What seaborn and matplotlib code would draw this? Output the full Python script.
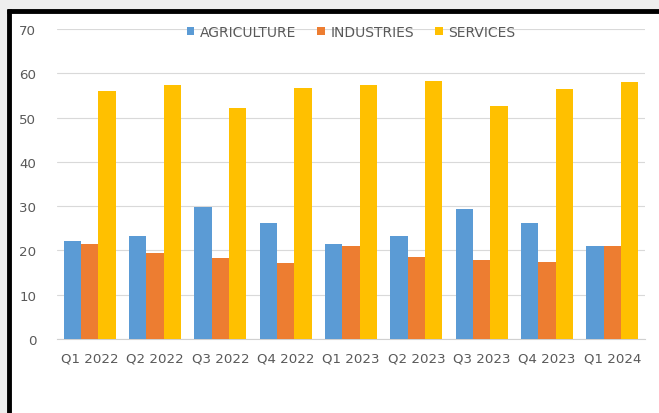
import pandas as pd
import matplotlib.pyplot as plt
import seaborn as sns
from matplotlib.lines import Line2D
from matplotlib.patches import Patch

quarters = ["Q1 2022", "Q2 2022", "Q3 2022", "Q4 2022", "Q1 2023",
            "Q2 2023", "Q3 2023", "Q4 2023", "Q1 2024"]
agriculture = [22.2, 23.2, 29.8, 26.2, 21.5, 23.2, 29.3, 26.2, 21.0]
industries = [21.5, 19.4, 18.3, 17.1, 21.1, 18.5, 17.9, 17.3, 21.0]
services = [55.9, 57.3, 52.2, 56.6, 57.3, 58.3, 52.6, 56.4, 58.1]
sectors = ["AGRICULTURE", "INDUSTRIES", "SERVICES"]
colors = ["#5B9BD5", "#ED7D31", "#FFC000"]

df = pd.DataFrame({"Quarter": quarters, "AGRICULTURE": agriculture,
                   "INDUSTRIES": industries, "SERVICES": services})
long_df = df.melt(id_vars="Quarter", var_name="Sector", value_name="Share")

sns.set_style("white")
plt.rcParams['font.family'] = ['DejaVu Sans']
text_color = "#595959"

fig = plt.figure(figsize=(6.59, 4.14), dpi=100, facecolor="#eeeeee")
W, H = 659, 414

# white chart area with black frame on left and top (cropped screenshot)
fig.patches.append(plt.Rectangle((9 / W, 0), 1, (H - 12) / H, transform=fig.transFigure,
                                 facecolor="white", edgecolor="none", zorder=-10))
fig.lines.append(Line2D([9 / W, 9 / W], [0, (H - 9.8) / H], transform=fig.transFigure,
                        color="black", linewidth=3.5, solid_capstyle="butt", zorder=5))
fig.lines.append(Line2D([7.3 / W, 1], [(H - 11.5) / H, (H - 11.5) / H], transform=fig.transFigure,
                        color="black", linewidth=3.5, solid_capstyle="butt", zorder=5))

ax = fig.add_axes([57 / W, (H - 340) / H, (645 - 57) / W, (340 - 30) / H])
ax.set_facecolor("none")

sns.barplot(data=long_df, x="Quarter", y="Share", hue="Sector", hue_order=sectors,
            palette=colors, width=0.8, saturation=1, linewidth=0, ax=ax, zorder=3)

ax.set_ylim(0, 70)
ax.set_yticks(range(0, 71, 10))
ax.set_xlim(-0.5, len(quarters) - 0.5)
ax.yaxis.grid(True, color="#d9d9d9", linewidth=0.8, zorder=0)
ax.set_axisbelow(True)
for side in ["top", "right", "left"]:
    ax.spines[side].set_visible(False)
ax.spines["bottom"].set_color("#d0d0d0")
ax.spines["bottom"].set_linewidth(0.8)
ax.tick_params(axis="both", length=0, colors=text_color, labelsize=9.6)
ax.tick_params(axis="x", pad=9)
ax.tick_params(axis="y", pad=15)
ax.set_xlabel("")
ax.set_ylabel("")

handles = [Patch(facecolor=c, edgecolor="none") for c in colors]
ax.legend(handles, sectors, loc="center", bbox_to_anchor=(351 / W, (H - 33) / H),
          bbox_transform=fig.transFigure, ncol=3, frameon=False, fontsize=10,
          labelcolor=text_color, handlelength=0.55, handleheight=0.55,
          handletextpad=0.4, columnspacing=1.5)

plt.savefig("out.png", dpi=100, facecolor=fig.get_facecolor())
plt.close()
